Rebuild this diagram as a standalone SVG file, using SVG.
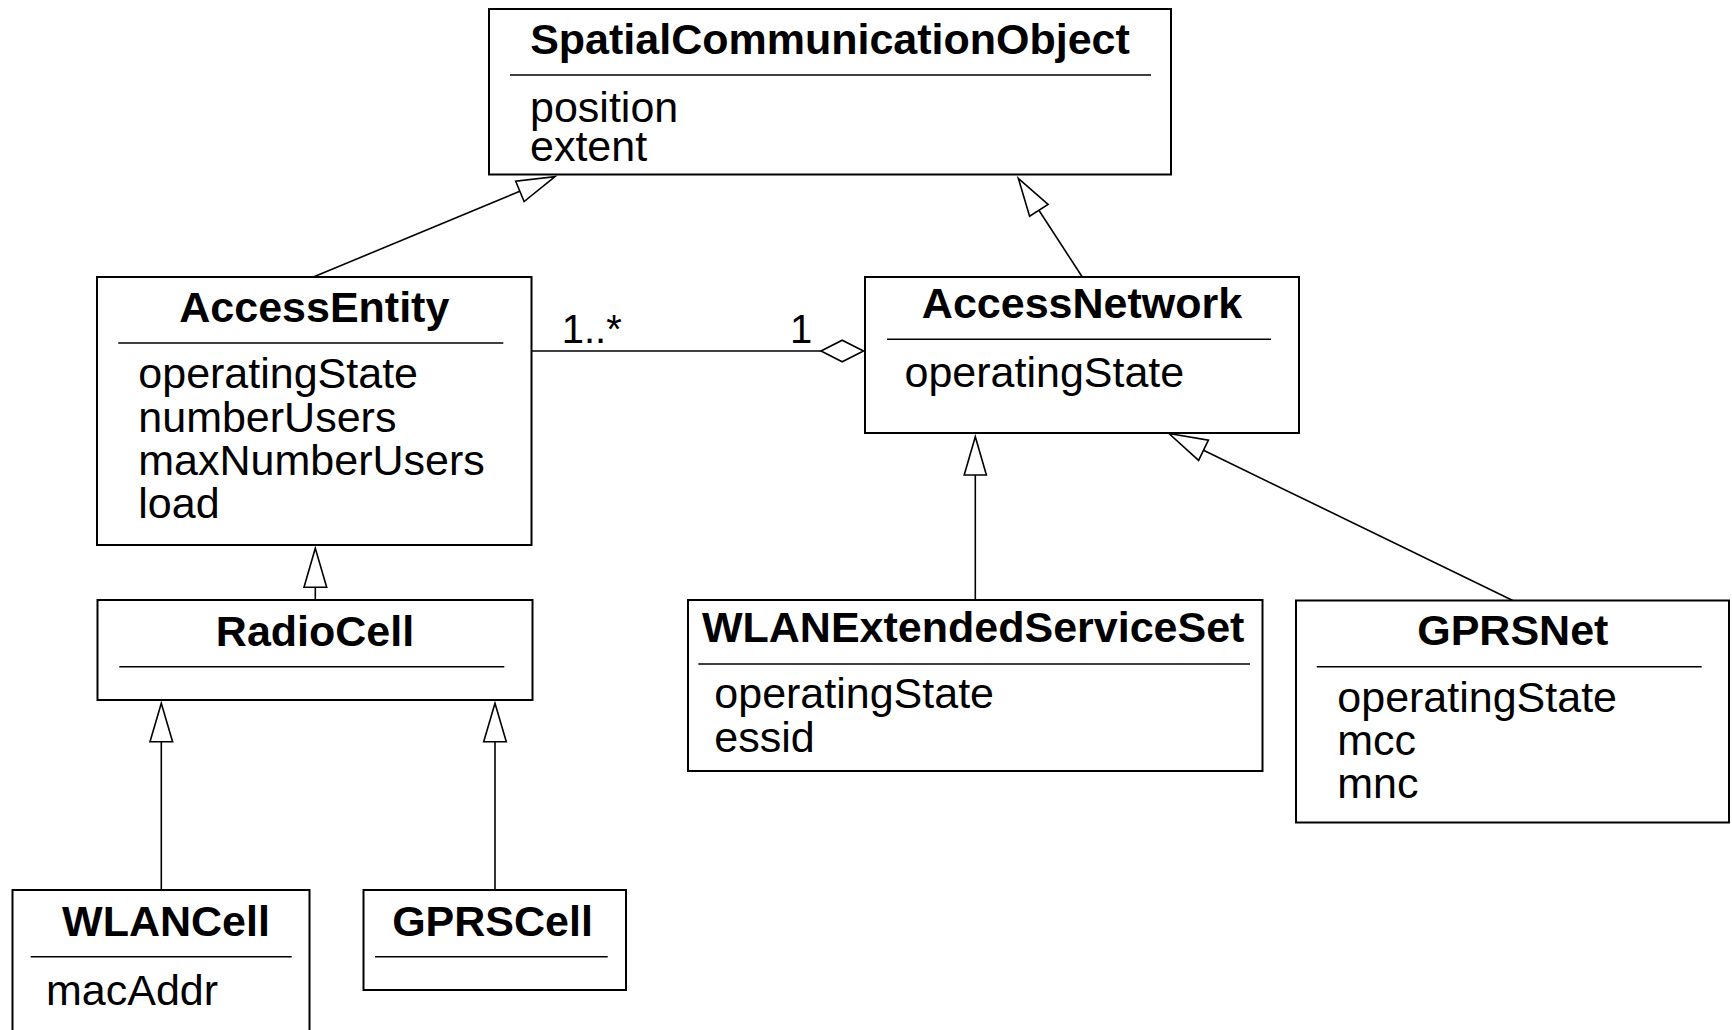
<svg xmlns="http://www.w3.org/2000/svg" width="1732" height="1030" viewBox="0 0 1732 1030">
  <style>
    .box { fill: #fff; stroke: #000; stroke-width: 2; }
    .sep { stroke: #000; stroke-width: 1.6; }
    .title { font-family: "Liberation Sans", Arial, sans-serif; font-weight: bold; font-size: 43px; fill: #000; text-anchor: middle; }
    .attr { font-family: "Liberation Sans", Arial, sans-serif; font-size: 43px; fill: #000; }
    .mult { font-family: "Liberation Sans", Arial, sans-serif; font-size: 40px; fill: #000; }
    .edge { fill: none; stroke: #000; stroke-width: 1.6; }
    .head { fill: #fff; stroke: #000; stroke-width: 1.6; stroke-linejoin: miter; }
  </style>
  <rect width="1732" height="1030" fill="#fff"/>

  <!-- connectors: generalizations and the aggregation -->
  <g id="connectors">
    <!-- AccessEntity -> SpatialCommunicationObject -->
    <line class="edge" x1="313.3" y1="277" x2="519.9" y2="191.3"/>
    <polygon class="head" points="555,176.7 524.1,201.5 515.7,181.2"/>
    <!-- AccessNetwork -> SpatialCommunicationObject -->
    <line class="edge" x1="1082.3" y1="277" x2="1038.9" y2="210.3"/>
    <polygon class="head" points="1018.3,178.3 1048.1,204.4 1029.6,216.2"/>
    <!-- RadioCell -> AccessEntity -->
    <line class="edge" x1="315.3" y1="587.3" x2="315.3" y2="600"/>
    <polygon class="head" points="315.3,548.3 304,587.3 326.7,587.3"/>
    <!-- WLANCell -> RadioCell -->
    <line class="edge" x1="161.3" y1="741.7" x2="161.3" y2="890"/>
    <polygon class="head" points="161.3,703.3 150,741.7 172.6,741.7"/>
    <!-- GPRSCell -> RadioCell -->
    <line class="edge" x1="495" y1="741.7" x2="495" y2="890"/>
    <polygon class="head" points="495,703.3 483.7,741.7 506.3,741.7"/>
    <!-- WLANExtendedServiceSet -> AccessNetwork -->
    <line class="edge" x1="975.3" y1="475" x2="975.3" y2="600"/>
    <polygon class="head" points="975.3,436.7 964.2,475 986.4,475"/>
    <!-- GPRSNet -> AccessNetwork -->
    <line class="edge" x1="1513.3" y1="600.7" x2="1203.5" y2="450.3"/>
    <polygon class="head" points="1169,433.5 1208.4,440.2 1198.6,460.4"/>
    <!-- AccessEntity 1..* to 1 AccessNetwork (aggregation) -->
    <line class="edge" x1="531.5" y1="351" x2="821" y2="351"/>
    <polygon class="head" points="821,351 842.2,340.2 863.5,351 842.2,361.8"/>
    <text class="mult" x="561.7" y="343.3">1..*</text>
    <text class="mult" x="790" y="343.3">1</text>
  </g>

  <g id="SpatialCommunicationObject">
    <rect class="box" x="489" y="9" width="682" height="165.5"/>
    <text class="title" x="830" y="53.5">SpatialCommunicationObject</text>
    <line class="sep" x1="510" y1="75" x2="1151" y2="75"/>
    <text class="attr" x="530" y="121.7">position</text>
    <text class="attr" x="530" y="161">extent</text>
  </g>

  <g id="AccessEntity">
    <rect class="box" x="97" y="277" width="434.5" height="268"/>
    <text class="title" x="314.3" y="322.3">AccessEntity</text>
    <line class="sep" x1="118.3" y1="343" x2="503.3" y2="343"/>
    <text class="attr" x="138.3" y="388.3">operatingState</text>
    <text class="attr" x="138.3" y="431.7">numberUsers</text>
    <text class="attr" x="138.3" y="475">maxNumberUsers</text>
    <text class="attr" x="138.3" y="518.3">load</text>
  </g>

  <g id="AccessNetwork">
    <rect class="box" x="865" y="277" width="434" height="156"/>
    <text class="title" x="1082" y="318.3">AccessNetwork</text>
    <line class="sep" x1="887" y1="339.3" x2="1271" y2="339.3"/>
    <text class="attr" x="904.5" y="386.7">operatingState</text>
  </g>

  <g id="RadioCell">
    <rect class="box" x="97.5" y="600" width="435" height="100"/>
    <text class="title" x="315" y="645.7">RadioCell</text>
    <line class="sep" x1="119.3" y1="666.7" x2="504.3" y2="666.7"/>
  </g>

  <g id="WLANCell">
    <rect class="box" x="12.5" y="890" width="297" height="160"/>
    <text class="title" x="166" y="936">WLANCell</text>
    <line class="sep" x1="30.7" y1="956.7" x2="291.7" y2="956.7"/>
    <text class="attr" x="46" y="1005">macAddr</text>
  </g>

  <g id="GPRSCell">
    <rect class="box" x="363.5" y="890" width="262.5" height="100"/>
    <text class="title" x="492.5" y="936">GPRSCell</text>
    <line class="sep" x1="375" y1="956.7" x2="607.7" y2="956.7"/>
  </g>

  <g id="WLANExtendedServiceSet">
    <rect class="box" x="688" y="600" width="574.5" height="171"/>
    <text class="title" x="973.2" y="641.7">WLANExtendedServiceSet</text>
    <line class="sep" x1="698.3" y1="664" x2="1250" y2="664"/>
    <text class="attr" x="714.3" y="708.3">operatingState</text>
    <text class="attr" x="714.3" y="751.7">essid</text>
  </g>

  <g id="GPRSNet">
    <rect class="box" x="1296" y="600.5" width="433" height="222"/>
    <text class="title" x="1512.8" y="645">GPRSNet</text>
    <line class="sep" x1="1316.7" y1="666.7" x2="1701.7" y2="666.7"/>
    <text class="attr" x="1337.3" y="711.7">operatingState</text>
    <text class="attr" x="1337.3" y="755">mcc</text>
    <text class="attr" x="1337.3" y="798.3">mnc</text>
  </g>
</svg>
